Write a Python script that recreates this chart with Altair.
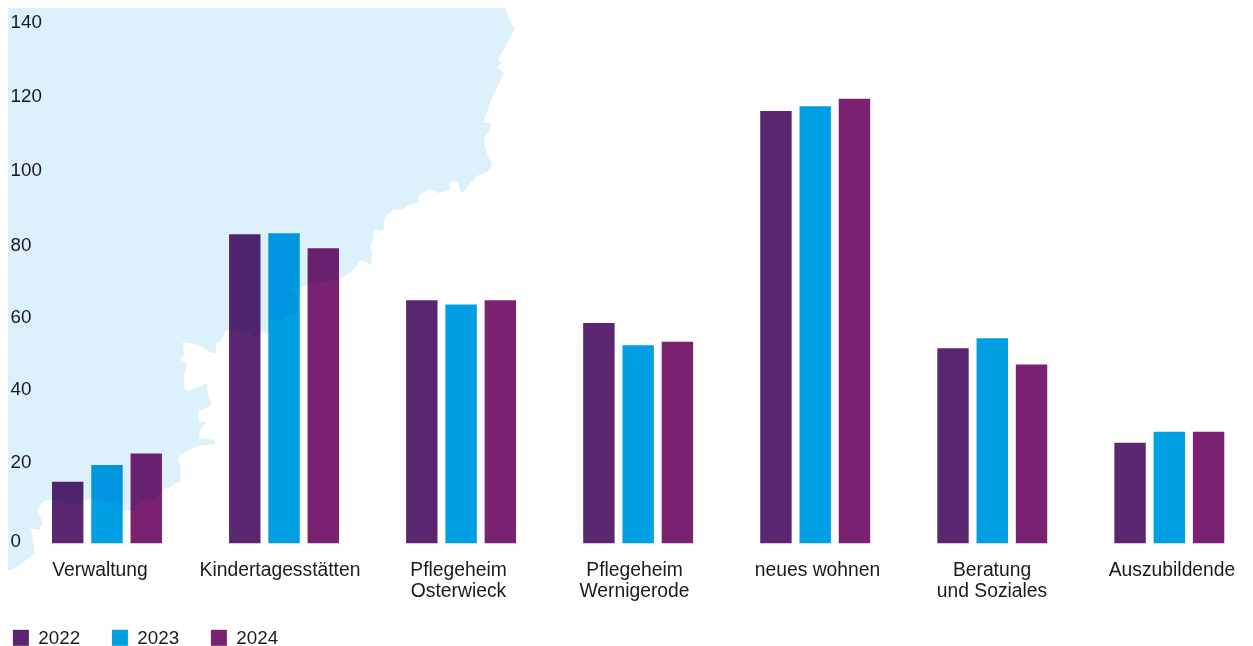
import altair as alt
import pandas as pd

FONT = "Liberation Sans"
TEXT = "#1a1a1a"

categories = ["Verwaltung", "Kindertagesstätten", "Pflegeheim\nOsterwieck", "Pflegeheim\nWernigerode",
              "neues wohnen", "Beratung\nund Soziales", "Auszubildende"]
years = ["2022", "2023", "2024"]
v2022 = [16.6, 83.3, 65.5, 59.4, 116.5, 52.6, 27.1]
v2023 = [21.1, 83.6, 64.4, 53.4, 117.8, 55.3, 30.1]
v2024 = [24.2, 79.5, 65.5, 54.3, 119.8, 48.2, 30.1]
colors = ["#5b2670", "#009fe3", "#7a2271"]
ticks = [0, 20, 40, 60, 80, 100, 120, 140]

# decorative map silhouette behind the bars (traced outline, page pixels)
coast = [(506, -10), (506, 10), (509, 20), (515, 29), (498, 60), (502, 63), (496, 68), (504, 72), (492, 98),
         (483, 123), (492, 123), (489, 132), (484, 138), (485, 148), (492, 165), (489, 171), (477, 176),
         (469, 185), (464, 192), (460, 191), (458, 181), (449, 182), (450, 190), (439, 193), (429, 189),
         (419, 195), (418, 203), (408, 205), (403, 209), (393, 210), (385, 217), (383, 231), (374, 230),
         (373, 240), (370, 247), (372, 253), (371, 265), (361, 260), (355, 268), (350, 273), (337, 280), (318, 282),
         (322, 291), (318, 283), (300, 287), (290, 290), (298, 295), (298, 312), (285, 317), (282, 322),
         (272, 318), (269, 325), (270, 334), (262, 331), (258, 338), (252, 338), (250, 331), (242, 332),
         (230, 329), (225, 332), (220, 342), (216, 343), (216, 353), (212, 353), (200, 346), (190, 343),
         (183, 342), (184, 355), (180, 359), (187, 364), (184, 375), (184, 388), (188, 391), (207, 383),
         (208, 395), (212, 405), (198, 412), (199, 422), (207, 422), (200, 430), (199, 438), (215, 440),
         (215, 444), (198, 446), (180, 455), (178, 460), (181, 467), (180, 482), (173, 484), (172, 487),
         (165, 488), (160, 495), (150, 501), (140, 502), (133, 511), (122, 510), (118, 503), (107, 502),
         (90, 499), (83, 500), (70, 506), (60, 500), (45, 500), (37, 510), (43, 523), (39, 530), (31, 528),
         (35, 553), (20, 565), (0, 575), (-10, 575), (-10, -10), (506, -10)]

rows = []
for i, c in enumerate(categories):
    for y, vals in zip(years, (v2022, v2023, v2024)):
        rows.append({"cat": c, "year": y, "value": vals[i]})
df = pd.DataFrame(rows)

map_feature = {"type": "Feature", "properties": {},
               "geometry": {"type": "Polygon", "coordinates": [[list(p) for p in coast]]}}
bg = alt.Chart(alt.Data(values=[map_feature])).mark_geoshape(
    fill="#dcf1fb", strokeWidth=0
).project(type="identity", scale=1, translate=[-8, -8])

bars = alt.Chart(df).mark_bar(blend="multiply").encode(
    x=alt.X("cat:N", sort=categories, axis=None,
            scale=alt.Scale(range=[44, 1216.3], paddingInner=0.379, paddingOuter=0)),
    xOffset=alt.XOffset("year:N", sort=years, scale=alt.Scale(paddingInner=0.2, paddingOuter=0)),
    y=alt.Y("value:Q", axis=None, scale=alt.Scale(domain=[0, 140], range=[535.3, 15.9])),
    color=alt.Color("year:N", sort=years, scale=alt.Scale(domain=years, range=colors),
                    legend=alt.Legend(title=None, orient="none", legendX=3.5, legendY=620,
                                      direction="horizontal", symbolType="square", symbolSize=256,
                                      symbolStrokeWidth=0, symbolOpacity=1, labelFont=FONT, labelFontSize=18.8,
                                      labelColor=TEXT, labelOffset=8, columnPadding=30)),
)

# y axis labels: the printed tick labels sit at their own spacing
tick_labels = alt.Chart(pd.DataFrame({"tick": ticks})).mark_text(
    font=FONT, fontSize=18.8, color=TEXT, align="left", baseline="middle"
).encode(
    x=alt.value(2.5),
    y=alt.Y("tick:Q", axis=None,
            scale=alt.Scale(domain=ticks, range=[533, 454, 381, 309, 237, 162, 88, 14])),
    text="tick:Q",
)

# category labels, each centred where it is printed
label_df = pd.DataFrame({"idx": list(range(len(categories))), "label": categories})
labels = alt.Chart(label_df).mark_text(font=FONT, fontSize=19.3, color=TEXT, align="center",
                                       baseline="alphabetic", lineBreak="\n", lineHeight=21).encode(
    x=alt.X("idx:Q", axis=None,
            scale=alt.Scale(domain=list(range(7)), range=[92, 272, 450.5, 626.5, 809.5, 984, 1164])),
    y=alt.value(567.5),
    text="label:N",
)

chart = alt.layer(bg, bars, tick_labels, labels).resolve_scale(x="independent", y="independent").properties(
    width=1237, height=638, padding=0, autosize=alt.AutoSizeParams(type="none"),
    background="white",
).configure_view(stroke=None)

chart.save("out.html", embed_options={"renderer": "svg", "actions": False})
